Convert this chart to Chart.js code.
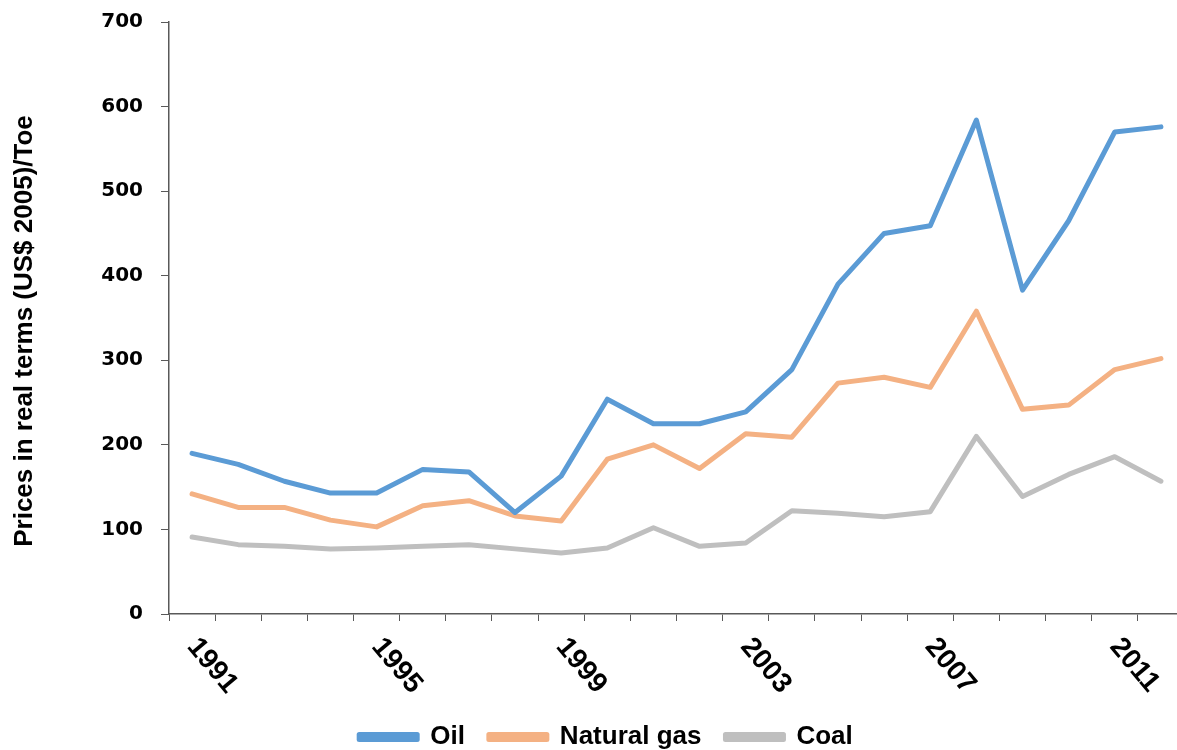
<!DOCTYPE html>
<html>
<head>
  <title>Energy prices</title>
  <script src="https://cdn.jsdelivr.net/npm/chart.js"></script>
  <style>
    body { margin: 0; overflow: hidden; background: #fff; }
    .wrap { position: absolute; left: 0; top: 0; width: 1192px; height: 760px; }
  </style>
</head>
<body>
  <div class="wrap">
    <canvas id="chart"></canvas>
  </div>

  <script>
    const years = ['1991','1992','1993','1994','1995','1996','1997','1998','1999','2000','2001',
                   '2002','2003','2004','2005','2006','2007','2008','2009','2010','2011','2012'];
    const shownYears = ['1991','1995','1999','2003','2007','2011'];
    const yTitle = 'Prices in real terms (US$ 2005)/Toe';

    const oil = [190, 177, 157, 143, 143, 171, 168, 120, 163, 254, 225,
                 225, 239, 289, 390, 450, 459, 584, 383, 465, 570, 576];
    const gas = [142, 126, 126, 111, 103, 128, 134, 116, 110, 183, 200,
                 172, 213, 209, 273, 280, 268, 358, 242, 247, 289, 302];
    const coal = [91, 82, 80, 77, 78, 80, 82, 77, 72, 78, 102,
                  80, 84, 122, 119, 115, 121, 210, 139, 165, 186, 157];

    const narrow = "'Liberation Sans Narrow', 'Arial Narrow', sans-serif";
    const axisColor = '#595959';

    // year labels slanted downwards and the y title, placed like the original
    const extraText = {
      id: 'extraText',
      afterDraw(chart) {
        const ctx = chart.ctx;
        const xs = chart.scales.x;
        ctx.save();
        ctx.font = 'bold 28px ' + narrow;
        ctx.fillStyle = '#000';
        ctx.textAlign = 'left';
        ctx.textBaseline = 'middle';
        shownYears.forEach(y => {
          const px = xs.getPixelForValue(years.indexOf(y));
          ctx.save();
          ctx.translate(px, chart.chartArea.bottom + 28);
          ctx.rotate(50 * Math.PI / 180);
          ctx.fillText(y, 0, 0);
          ctx.restore();
        });

        ctx.font = 'bold 26px ' + narrow;
        ctx.textAlign = 'center';
        ctx.translate(25, 331);
        ctx.rotate(-Math.PI / 2);
        ctx.fillText(yTitle, 0, 0);
        ctx.restore();
      }
    };

    function makeSet(label, data, color) {
      return {
        label: label,
        data: data,
        borderColor: color,
        backgroundColor: color,
        borderWidth: 5,
        pointRadius: 0,
        tension: 0,
        borderJoinStyle: 'round',
        borderCapStyle: 'round'
      };
    }

    new Chart(document.getElementById('chart'), {
      type: 'line',
      data: {
        labels: years,
        datasets: [
          makeSet('Oil', oil, '#5b9bd5'),
          makeSet('Natural gas', gas, '#f4b183'),
          makeSet('Coal', coal, '#bfbfbf')
        ]
      },
      options: {
        responsive: true,
        maintainAspectRatio: false,
        animation: false,
        layout: { padding: { left: 28, right: 8, top: 22, bottom: 0 } },
        plugins: {
          tooltip: { enabled: false },
          legend: {
            position: 'bottom',
            labels: {
              boxWidth: 58,
              boxHeight: 5,
              padding: 24,
              color: '#000',
              font: { family: narrow, size: 26, weight: 'bold' }
            }
          }
        },
        scales: {
          x: {
            offset: true,
            grid: {
              offset: true,
              drawOnChartArea: false,
              tickLength: 7,
              color: axisColor
            },
            border: { color: axisColor, width: 1.5 },
            ticks: { display: false },
            afterFit(scale) { scale.height = 86; }
          },
          y: {
            min: 0,
            max: 700,
            ticks: {
              stepSize: 100,
              padding: 18,
              color: '#000',
              font: { family: 'DejaVu Sans', size: 20, weight: 'bold' }
            },
            grid: {
              drawOnChartArea: false,
              tickLength: 8,
              color: axisColor
            },
            border: { color: axisColor, width: 1.5 },
            afterFit(scale) {
              scale.width = 141;
              scale.paddingTop = 0;
              scale.paddingBottom = 0;
            }
          }
        }
      },
      plugins: [extraText]
    });
  </script>
</body>
</html>
